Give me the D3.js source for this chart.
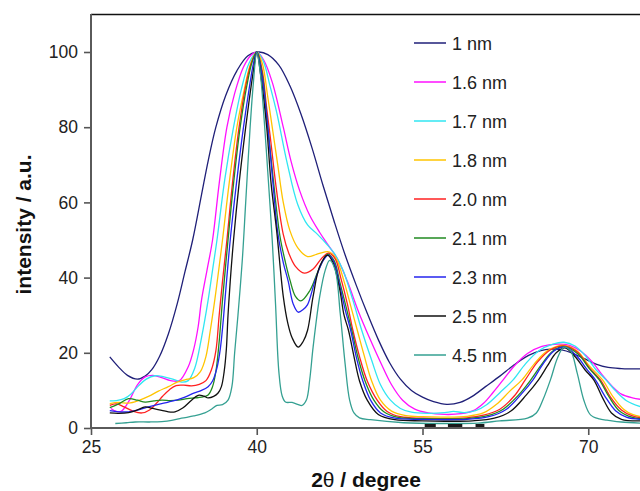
<!DOCTYPE html>
<html>
<head>
<meta charset="utf-8">
<script src="https://cdn.jsdelivr.net/npm/d3@7"></script>
<style>
  html, body { margin: 0; padding: 0; background: #fff; }
  svg { display: block; font-family: Arial, "Liberation Sans", Helvetica, sans-serif; }
</style>
</head>
<body>
<svg id="chart" width="640" height="491"></svg>
<script>
// XRD patterns (2θ in degrees, normalised intensity) for nanoparticles of different sizes
const labels = ["1 nm", "1.6 nm", "1.7 nm", "1.8 nm", "2.0 nm", "2.1 nm", "2.3 nm", "2.5 nm", "4.5 nm"];
const colors = ["#1f1f78", "#ff10ff", "#30e6f2", "#ffc400", "#ff2020", "#208a20", "#2424ee", "#111111", "#35a092"];

const p1nm = [[26.7,18.9],[27.5,16.2],[28.3,14],[29.2,13.0],[29.9,13.8],[30.5,15.5],[31.2,19],[32.0,25],[32.8,33],[33.5,41.5],[34.2,50],[35.0,62],[35.6,71],[36.3,80],[37.2,88.5],[38.2,95],[39.2,99],[40.2,100],[41.0,99.3],[42.0,96.5],[43.0,91],[44.0,83.5],[45.0,74.5],[46.0,64.5],[47.0,55],[48.0,46],[49.0,38],[50.0,30.5],[51.0,23.5],[52.0,17.5],[53.0,13],[54.0,10],[55.0,8.2],[56.0,7],[57.2,6.3],[58.4,6.8],[59.5,8.4],[60.7,11],[62.0,13.8],[63.3,16.8],[64.6,19.3],[65.7,20.6],[66.6,21],[67.6,20.8],[68.5,20],[69.6,18.5],[70.7,17],[71.8,16.1],[73,15.8],[74.8,15.7]];
const p16nm = [[26.8,5.2],[27.3,4.4],[27.8,4.6],[28.5,7.5],[29.2,11.5],[29.9,13.6],[30.6,14],[31.4,13.4],[32.2,12.6],[33.0,12.6],[33.8,16.3],[34.3,21],[34.7,27],[35.0,34],[35.5,42],[36.0,50],[36.6,65],[37.3,80],[38.0,89],[38.8,96],[39.5,99.2],[40.0,100],[40.6,98],[41.4,92],[42.4,80],[43.1,71],[43.9,63],[44.8,56.5],[45.7,52],[46.5,48.5],[47.3,45],[48.2,39],[49.2,31],[50.2,24],[51.2,17.5],[52.2,11.5],[53.2,7.4],[54.3,5],[55.5,4],[57,3.6],[58.5,3.8],[59.6,4.6],[60.5,6.5],[61.4,9.5],[62.3,12.8],[63.3,16.5],[64.5,19.8],[65.8,21.7],[67.2,22.3],[68.3,22],[69.3,20.5],[70.3,17.8],[71.3,14],[72.2,11],[73,9],[74,8],[74.8,7.6]];
const p17nm = [[26.7,7.2],[27.3,7.3],[28.0,7.8],[28.6,9],[29.3,11.2],[30.0,13],[30.8,13.9],[31.6,13.6],[32.4,13],[33.2,12.2],[33.8,12.6],[34.4,16],[35.0,24],[35.6,34],[36.0,42],[36.4,50],[37.1,66],[37.9,80],[38.6,90],[39.3,97],[40.0,100],[40.6,97.5],[41.2,91],[41.8,84],[42.75,70.5],[43.7,59.5],[44.6,54],[45.5,51.5],[46.3,49],[47.0,46.5],[47.8,42],[48.7,34],[49.5,26],[50.4,18],[51.2,11.5],[52.1,7.4],[53,5.2],[54,4.2],[55.5,3.9],[57,4.1],[57.8,4.4],[58.8,4.1],[59.8,4.6],[60.8,6.2],[62,9.4],[63.2,12.8],[64.3,17],[65.5,20.5],[66.8,22.3],[67.8,22.8],[68.8,21.8],[69.8,19],[70.7,15.5],[71.6,12.8],[72.5,9.8],[73.5,7.2],[74.8,5.6]];
const p18nm = [[26.7,6.5],[27.5,6.8],[28.4,6.6],[29.3,7.3],[30.2,8.4],[31.1,9.8],[32.0,11],[32.8,12.2],[33.5,12.8],[34.3,13.4],[34.9,15],[35.4,19],[35.8,26],[36.2,34],[36.6,43],[36.9,50],[37.5,65],[38.2,80],[38.8,89],[39.4,96.5],[40.0,100],[40.5,97],[41.0,88],[41.4,80],[41.9,70],[42.4,60],[43.0,52.5],[43.7,48],[44.6,45.6],[45.4,46.2],[46.1,46.8],[46.6,46.8],[47.2,45],[47.9,39],[48.5,32.5],[49.1,26],[49.7,19.5],[50.4,12.5],[51.2,7.4],[52.2,4.5],[53.5,3.3],[55,3],[57,2.9],[59,3.1],[60.5,4],[61.7,6.3],[62.9,9.8],[64.0,12.8],[65.1,17],[66.3,20.5],[67.8,22],[69.0,20.5],[70.1,16.5],[71.3,12.8],[72.2,8.5],[73.2,5],[74.0,3.6],[74.8,3]];
const p20nm = [[26.7,6],[27.3,6.4],[28.0,5.6],[28.8,4.5],[29.6,4],[30.3,4.8],[30.9,6.5],[31.5,8.5],[32.1,10.2],[32.7,11.3],[33.4,11.4],[34.1,11.2],[34.8,11.6],[35.4,12.6],[35.9,15.5],[36.3,20.5],[36.6,30],[36.9,39],[37.3,50],[37.8,65],[38.4,80],[39.0,91],[39.5,97],[40.0,100],[40.5,95],[40.9,85],[41.2,78],[41.8,63],[42.4,51.5],[42.9,46.5],[43.5,43],[44.3,41.2],[45.1,42.3],[45.9,45.2],[46.5,46.5],[47.1,45],[47.6,40],[48.2,33],[48.7,26],[49.3,19],[50.0,12.5],[50.9,7.4],[51.8,4.4],[53,3],[55,2.6],[57,2.5],[59,2.7],[60.5,3.4],[62,5],[63.3,8.5],[64.3,12.8],[65.4,17.5],[66.6,20.8],[67.9,21.8],[69.1,20],[70.1,16],[71.1,12.8],[72.0,8.3],[73.0,4.8],[74,3.2],[74.8,2.7]];
const p21nm = [[26.7,5.4],[27.5,6.4],[28.4,7.8],[29.2,7.4],[29.9,6.9],[30.7,7.2],[31.4,7.4],[32.2,7.3],[32.9,7.4],[33.7,7.8],[34.4,8],[35.0,8.2],[35.6,8.8],[36.0,11],[36.3,15],[36.6,23],[36.9,34],[37.4,50],[37.9,65],[38.5,80],[39.1,91],[39.6,97.5],[40.0,100],[40.5,94],[41.0,80],[41.5,66],[42.1,51],[42.6,44],[43.0,39.4],[43.5,35],[44.0,33.8],[44.8,36.5],[45.6,42],[46.4,46.2],[47.0,44.5],[47.5,39],[48.1,32],[48.6,26],[49.1,19.5],[49.8,12.5],[50.6,7.4],[51.5,4.3],[52.8,2.8],[55,2.5],[57,2.4],[59,2.5],[60.8,3.2],[62.3,5],[63.7,8.8],[64.8,12.8],[65.8,17],[66.8,20.5],[67.9,21.6],[69.1,19.6],[70.1,15.8],[71.0,12.8],[71.9,8.2],[72.8,4.6],[74,2.8],[74.8,2.5]];
const p23nm = [[26.7,4.6],[27.5,4.3],[28.4,4.3],[29.3,4.8],[30.2,5.6],[31.1,6.3],[32.0,6.9],[32.8,7.5],[33.5,8.2],[34.3,9.3],[35.0,10],[35.6,11],[36.0,12.5],[36.4,16],[36.7,21],[36.95,28],[37.15,35],[37.6,50],[38.2,66],[38.8,80],[39.3,90],[39.7,97],[40.0,100],[40.5,93],[41.0,80],[41.5,64],[41.9,52],[42.4,44],[42.85,39],[43.3,33],[43.75,30.8],[44.2,31.5],[44.6,32.8],[45.3,39.4],[46.0,44.5],[46.5,46],[47.0,44],[47.5,38],[48.0,31.5],[48.5,26],[49.0,19],[49.6,12.5],[50.3,7.4],[51.2,4],[52.5,2.6],[55,2.3],[57,2.2],[59,2.3],[61,3],[62.6,5],[64,9.2],[65.0,12.8],[65.9,17],[66.9,20.5],[67.9,21.5],[69.0,19],[69.9,15.5],[70.65,12.8],[71.5,8.5],[72.5,4.5],[73.5,2.8],[74.8,2.3]];
const p25nm = [[26.7,4],[27.5,3.9],[28.4,4.1],[29.2,4.8],[29.9,5.6],[30.6,5.2],[31.4,4.7],[32.0,4.3],[32.6,4.3],[33.3,5.3],[34.1,7.4],[34.7,8.7],[35.2,8.5],[35.6,8],[36.1,8.4],[36.5,9.3],[36.8,11],[37.05,15],[37.25,21],[37.4,30],[37.6,39],[37.9,50],[38.4,65],[39.0,80],[39.4,89],[39.8,97],[40.0,100],[40.4,93],[40.9,80],[41.3,65],[41.8,52.5],[42.4,35],[42.8,28],[43.2,24],[43.75,21.5],[44.2,23],[44.6,26],[45.1,35],[45.7,43],[46.4,46],[46.9,44],[47.5,37],[47.9,30],[48.3,26],[48.8,19],[49.3,12.5],[50.0,7.4],[51.0,3.6],[52.5,2.2],[55,1.9],[57,1.8],[59.5,1.9],[61.5,2.6],[63,4.5],[64.4,8.8],[65.5,12.8],[66.3,16.5],[67.1,20],[67.9,21.3],[68.8,19],[69.7,15.5],[70.5,12.8],[71.3,8],[72.1,4],[73,2.3],[74.8,1.9]];
const p45nm = [[27.2,1.2],[28.2,1.4],[29.0,1.6],[30.3,1.6],[31.4,1.7],[32.3,2],[33.2,2.6],[34.3,3.2],[35.3,4],[35.9,5],[36.4,6],[36.9,6.2],[37.4,7.4],[37.75,11],[38.0,20],[38.3,30],[38.7,45],[39.0,60],[39.4,80],[39.7,92],[40.0,100],[40.3,95],[40.6,85],[41.0,68],[41.4,50],[41.7,33],[42.0,15],[42.3,8.5],[42.6,6.9],[43.2,6.8],[43.7,6.3],[44.1,6],[44.5,7.5],[44.8,13],[45.1,21.5],[45.7,35],[46.2,42],[46.6,44.6],[47.1,42],[47.55,30.6],[48.0,17],[48.4,7.5],[48.8,4],[49.3,2.7],[50.3,2.2],[53.3,1.4],[57,1.2],[60,1.3],[62,1.9],[64.5,2.6],[65.3,4],[65.9,7.5],[66.6,13],[67.2,18.5],[67.8,21.5],[68.4,20.5],[69.0,14.6],[69.6,7.4],[70.2,3.5],[71.0,2.4],[71.7,2.1],[73,1.6],[74.8,1.3]];

// Reference pattern markers along the baseline (2θ start/end)
const refMarks = [[55.2, 56.2], [57.3, 58.6], [59.8, 60.6]];

const xTicks = [25, 40, 55, 70];
const yTicks = [0, 20, 40, 60, 80, 100];

const seriesData = [p1nm, p16nm, p17nm, p18nm, p20nm, p21nm, p23nm, p25nm, p45nm];

const svg = d3.select("#chart");

const x = d3.scaleLinear().domain([25, 75]).range([91, 643.5]);
const y = d3.scaleLinear().domain([0, 110]).range([428, 14.4]);

svg.append("defs").append("clipPath").attr("id", "plot")
  .append("rect").attr("x", 91).attr("y", 14).attr("width", 560).attr("height", 414);

// frame: top border
svg.append("line").attr("x1", 91).attr("x2", 640).attr("y1", 14.5).attr("y2", 14.5)
  .attr("stroke", "#111").attr("stroke-width", 1.6);

// curves
const line = d3.line().x(d => x(d[0])).y(d => y(d[1])).curve(d3.curveCatmullRom.alpha(0.5));
const plot = svg.append("g").attr("clip-path", "url(#plot)");
seriesData.forEach((s, i) => {
  plot.append("path").datum(s)
    .attr("d", line)
    .attr("fill", "none")
    .attr("stroke", colors[i])
    .attr("stroke-width", 1.3)
    .attr("stroke-linejoin", "round");
});

// reference markers
svg.append("g").selectAll("rect").data(refMarks).join("rect")
  .attr("x", d => x(d[0]))
  .attr("width", d => x(d[1]) - x(d[0]))
  .attr("y", y(0) - 4)
  .attr("height", 4)
  .attr("fill", "#1a1a1a");

// axes
const xAxis = d3.axisBottom(x).tickValues(xTicks).tickSize(7).tickPadding(6);
const yAxis = d3.axisLeft(y).tickValues(yTicks).tickSize(7).tickPadding(6);

const gx = svg.append("g").attr("transform", "translate(0,428)").call(xAxis);
const gy = svg.append("g").attr("transform", "translate(91,0)").call(yAxis);

[gx, gy].forEach(g => {
  g.select(".domain").remove();
  g.selectAll(".tick line").attr("stroke", "#555").attr("stroke-width", 1.6);
  g.selectAll(".tick text").attr("fill", "#222").style("font-size", "17.5px")
    .style("font-family", "Arial, 'Liberation Sans', Helvetica, sans-serif");
});

svg.append("line").attr("x1", 91).attr("x2", 640).attr("y1", 428).attr("y2", 428)
  .attr("stroke", "#5a5a5a").attr("stroke-width", 2);
svg.append("line").attr("x1", 91).attr("x2", 91).attr("y1", 14).attr("y2", 429)
  .attr("stroke", "#5a5a5a").attr("stroke-width", 2);

// axis titles
const xt = svg.append("text").attr("x", 366).attr("y", 487).attr("text-anchor", "middle")
  .style("font-size", "21px").style("font-weight", "bold").attr("fill", "#111");
xt.append("tspan").text("2");
xt.append("tspan").style("font-weight", "normal").text("θ");
xt.append("tspan").text(" / degree");

svg.append("text")
  .attr("transform", "translate(31,224.5) rotate(-90)")
  .attr("text-anchor", "middle")
  .style("font-size", "21px").style("font-weight", "bold").attr("fill", "#111")
  .text("intensity / a.u.");

// legend
const leg = svg.append("g");
labels.forEach((lab, i) => {
  const ly = 43 + i * 39;
  leg.append("line").attr("x1", 414).attr("x2", 446).attr("y1", ly).attr("y2", ly)
    .attr("stroke", colors[i]).attr("stroke-width", 1.5);
  leg.append("text").attr("x", 452).attr("y", ly + 6.5).style("font-size", "18px")
    .attr("fill", "#222").text(lab);
});
</script>
</body>
</html>
